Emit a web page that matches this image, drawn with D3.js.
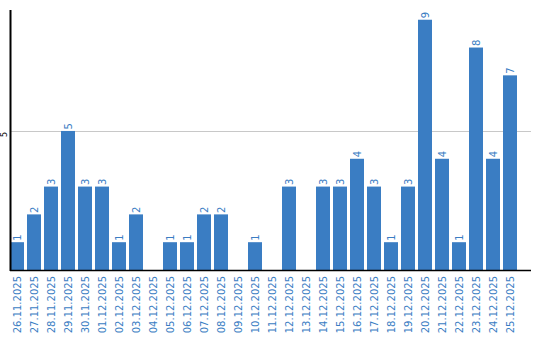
<!DOCTYPE html>
<html>
<head>
<meta charset="utf-8">
<script src="https://cdn.jsdelivr.net/npm/d3@7"></script>
<style>
  body { margin: 0; background: #fff; }
  svg text { font-family: "DejaVu Sans", Verdana, sans-serif; }
</style>
</head>
<body>
<svg id="chart" width="540" height="340"></svg>
<script>
const dates = ['26.11.2025', '27.11.2025', '28.11.2025', '29.11.2025', '30.11.2025',
    '01.12.2025', '02.12.2025', '03.12.2025', '04.12.2025', '05.12.2025',
    '06.12.2025', '07.12.2025', '08.12.2025', '09.12.2025', '10.12.2025',
    '11.12.2025', '12.12.2025', '13.12.2025', '14.12.2025', '15.12.2025',
    '16.12.2025', '17.12.2025', '18.12.2025', '19.12.2025', '20.12.2025',
    '21.12.2025', '22.12.2025', '23.12.2025', '24.12.2025', '25.12.2025'];
const counts = [1, 2, 3, 5, 3, 3, 1, 2, 0, 1, 1, 2, 2, 0, 1, 0, 3, 0, 3, 3, 4, 3, 1, 3, 9, 4, 1, 8, 4, 7];
const yTicks = [5];

const blue = '#3a7dc3';
const svg = d3.select('#chart');

const x = d3.scaleBand()
    .domain(dates)
    .range([10, 517])
    .paddingInner(3 / 17)
    .paddingOuter(0);

const y = d3.scaleLinear()
    .domain([0, 9.35])
    .range([270, 10]);

// grid
svg.append('g')
    .selectAll('line')
    .data(yTicks)
    .join('line')
    .attr('x1', 10)
    .attr('x2', 531)
    .attr('y1', d => Math.round(y(d)) + 0.5)
    .attr('y2', d => Math.round(y(d)) + 0.5)
    .attr('stroke', '#c8c8c8')
    .attr('stroke-width', 1);

// bars
svg.append('g')
    .selectAll('rect')
    .data(counts)
    .join('rect')
    .attr('x', (d, i) => x(dates[i]))
    .attr('width', x.bandwidth())
    .attr('y', d => y(d))
    .attr('height', d => y(0) - y(d))
    .attr('fill', blue);

// value labels
svg.append('g')
    .selectAll('text')
    .data(counts.map((v, i) => ({v, d: dates[i]})).filter(o => o.v > 0))
    .join('text')
    .attr('transform', o => 'translate(' + (x(o.d) + x.bandwidth() / 2 + 4) + ',' + (y(o.v) - 1.5) + ') rotate(-90)')
    .attr('font-size', 10)
    .attr('fill', blue)
    .text(o => o.v);

// x axis
const xAxis = svg.append('g')
    .attr('transform', 'translate(0,270)')
    .call(d3.axisBottom(x).tickSize(0).tickPadding(0));
xAxis.select('.domain').remove();
xAxis.append('line')
    .attr('x1', 10).attr('x2', 531)
    .attr('y1', 0.5).attr('y2', 0.5)
    .attr('stroke', '#000').attr('stroke-width', 1.5);
xAxis.selectAll('.tick text')
    .attr('transform', 'rotate(-90)')
    .attr('text-anchor', 'end')
    .attr('x', -6)
    .attr('y', 0)
    .attr('dy', '0.35em')
    .attr('font-size', 10)
    .attr('font-family', '"DejaVu Sans", Verdana, sans-serif')
    .attr('fill', blue);

// y axis
svg.append('line')
    .attr('x1', 10.5).attr('x2', 10.5)
    .attr('y1', 10).attr('y2', 271)
    .attr('stroke', '#000').attr('stroke-width', 2);
svg.append('g')
    .selectAll('text')
    .data(yTicks)
    .join('text')
    .attr('transform', d => 'translate(7,' + (y(d) + 6) + ') rotate(-90)')
    .attr('text-anchor', 'start')
    .attr('font-size', 8)
    .attr('fill', '#000')
    .text(d => d);
</script>
</body>
</html>
